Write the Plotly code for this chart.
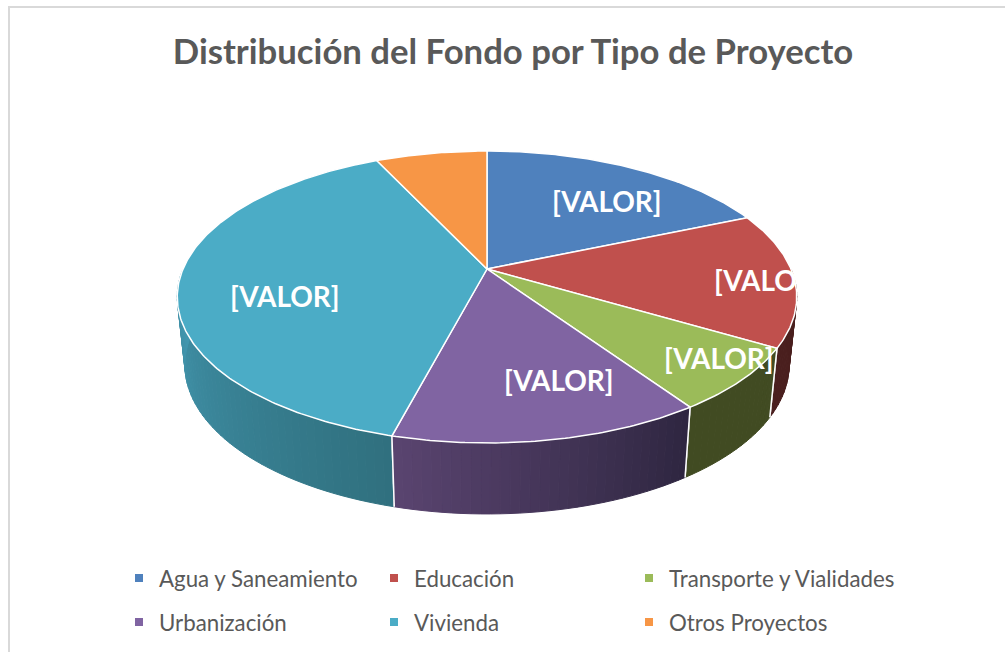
import math
import plotly.graph_objects as go

# ---- data -------------------------------------------------------------
categories = ["Agua y Saneamiento", "Educación", "Transporte y Vialidades",
              "Urbanización", "Vivienda", "Otros Proyectos"]
shares = [18.6, 14.9, 7.0, 13.6, 38.9, 7.0]
data_label = "[VALOR]"
title_text = "Distribución del Fondo por Tipo de Proyecto"

# ---- style ------------------------------------------------------------
top_colors = ["#4f81bd", "#c0504d", "#9bbb59", "#8064a2", "#4bacc6", "#f79646"]
wall_left = ["#375a84", "#4a1f1e", "#414b22", "#5a4470", "#4398b0", "#ac6830"]
wall_right = ["#375a84", "#4a1f1e", "#414b22", "#2e2640", "#30707f", "#ac6830"]
label_px = [(607, 201), (769, 280), (719, 358), (559, 380), (285, 296)]
legend_px = [(119, 578), (374, 578), (629, 578), (119, 622), (374, 622), (629, 622)]

FONT = "Lato"
W, H = 1005, 652
K = 0.1918                     # perspective
TOP = dict(cx=487, cy=269, R=304, S=140.6)
BASE = dict(cx=487, cy=336.4, R=296.5, S=143.5)


def project(theta_deg, r, g):
    t = math.radians(theta_deg)
    s, c = math.sin(t), math.cos(t)
    w = 1 + K * r * c
    return g["cx"] + g["R"] * r * s / w, g["cy"] - g["S"] * r * c / w


def mix(a, b, f):
    pa = [int(a[i:i + 2], 16) for i in (1, 3, 5)]
    pb = [int(b[i:i + 2], 16) for i in (1, 3, 5)]
    return "rgb(%d,%d,%d)" % tuple(round(x + (y - x) * f) for x, y in zip(pa, pb))


total = sum(shares)
edges = [0.0]
for v in shares:
    edges.append(edges[-1] + v / total * 360)

fig = go.Figure()

# side walls, back to front
order = sorted(range(len(shares)), key=lambda i: -abs(((edges[i] + edges[i + 1]) / 2) - 180))
for i in order:
    a0, a1 = max(edges[i], 90), min(edges[i + 1], 270)
    if a1 <= a0:
        continue
    n = max(2, int((a1 - a0) / 1.5))
    for j in range(n):
        t0 = a0 + (a1 - a0) * j / n
        t1 = a0 + (a1 - a0) * (j + 1) / n
        pts = [project(t0, 1, TOP), project(t1, 1, TOP), project(t1, 1, BASE), project(t0, 1, BASE)]
        # colour runs from the left side of the wall to its right side
        col = mix(wall_right[i], wall_left[i], (j + 0.5) / n)
        fig.add_trace(go.Scatter(
            x=[p[0] for p in pts] + [pts[0][0]], y=[p[1] for p in pts] + [pts[0][1]],
            mode="lines", fill="toself", fillcolor=col, line=dict(color=col, width=1),
            hoverinfo="skip", showlegend=False))
    # white seam between walls
    for a in (edges[i], edges[i + 1]):
        if 90 <= a <= 270:
            p, q = project(a, 1, TOP), project(a, 1, BASE)
            fig.add_trace(go.Scatter(x=[p[0], q[0]], y=[p[1], q[1]], mode="lines",
                                     line=dict(color="white", width=1.5),
                                     hoverinfo="skip", showlegend=False))

# top face
for i, name in enumerate(categories):
    steps = max(2, int((edges[i + 1] - edges[i]) * 1.5))
    pts = [project(edges[i] + (edges[i + 1] - edges[i]) * j / steps, 1, TOP) for j in range(steps + 1)]
    apex = project(0, 0, TOP)
    xs = [apex[0]] + [p[0] for p in pts] + [apex[0]]
    ys = [apex[1]] + [p[1] for p in pts] + [apex[1]]
    fig.add_trace(go.Scatter(x=xs, y=ys, mode="lines", fill="toself", fillcolor=top_colors[i],
                             line=dict(color="white", width=1.5), name=name,
                             hoverinfo="name", showlegend=False))

# legend entries: one legend per cell of the 3 x 2 key
legends = {}
for i, name in enumerate(categories):
    key = "legend" if i == 0 else "legend%d" % (i + 1)
    fig.add_trace(go.Scatter(x=[None], y=[None], mode="markers", name=name,
                             marker=dict(symbol="square", size=8, color=top_colors[i]),
                             legend=key, showlegend=True))
    legends[key] = dict(orientation="h", xanchor="left", yanchor="middle", itemwidth=30,
                        bgcolor="rgba(0,0,0,0)",
                        font=dict(family=FONT, size=22.3, color="#595959"),
                        x=legend_px[i][0] / W, y=1 - legend_px[i][1] / H)

annotations = [dict(x=x, y=y, text=data_label, showarrow=False, xref="x", yref="y",
                    font=dict(family=FONT, size=28, color="white", weight="bold"))
               for x, y in label_px]

fig.update_layout(
    width=W, height=H, margin=dict(l=0, r=0, t=0, b=0, autoexpand=False),
    paper_bgcolor="white", plot_bgcolor="white",
    title=dict(text=title_text, x=513 / W, y=1 - 52 / H, xanchor="center", yanchor="middle",
               xref="paper", yref="paper", automargin=False,
               font=dict(family=FONT, size=34.7, color="#595959", weight="bold")),
    xaxis=dict(range=[0, W], visible=False, fixedrange=True),
    yaxis=dict(range=[H, 0], visible=False, fixedrange=True),
    annotations=annotations,
    shapes=[dict(type="rect", xref="x", yref="y", x0=9, y0=7, x1=W + 10, y1=H + 10,
                 line=dict(color="#d9d9d9", width=2), layer="below")],
    **legends,
)

fig.write_html("out.html", config=dict(displayModeBar=False),
               post_script="document.body.style.margin='0';")
